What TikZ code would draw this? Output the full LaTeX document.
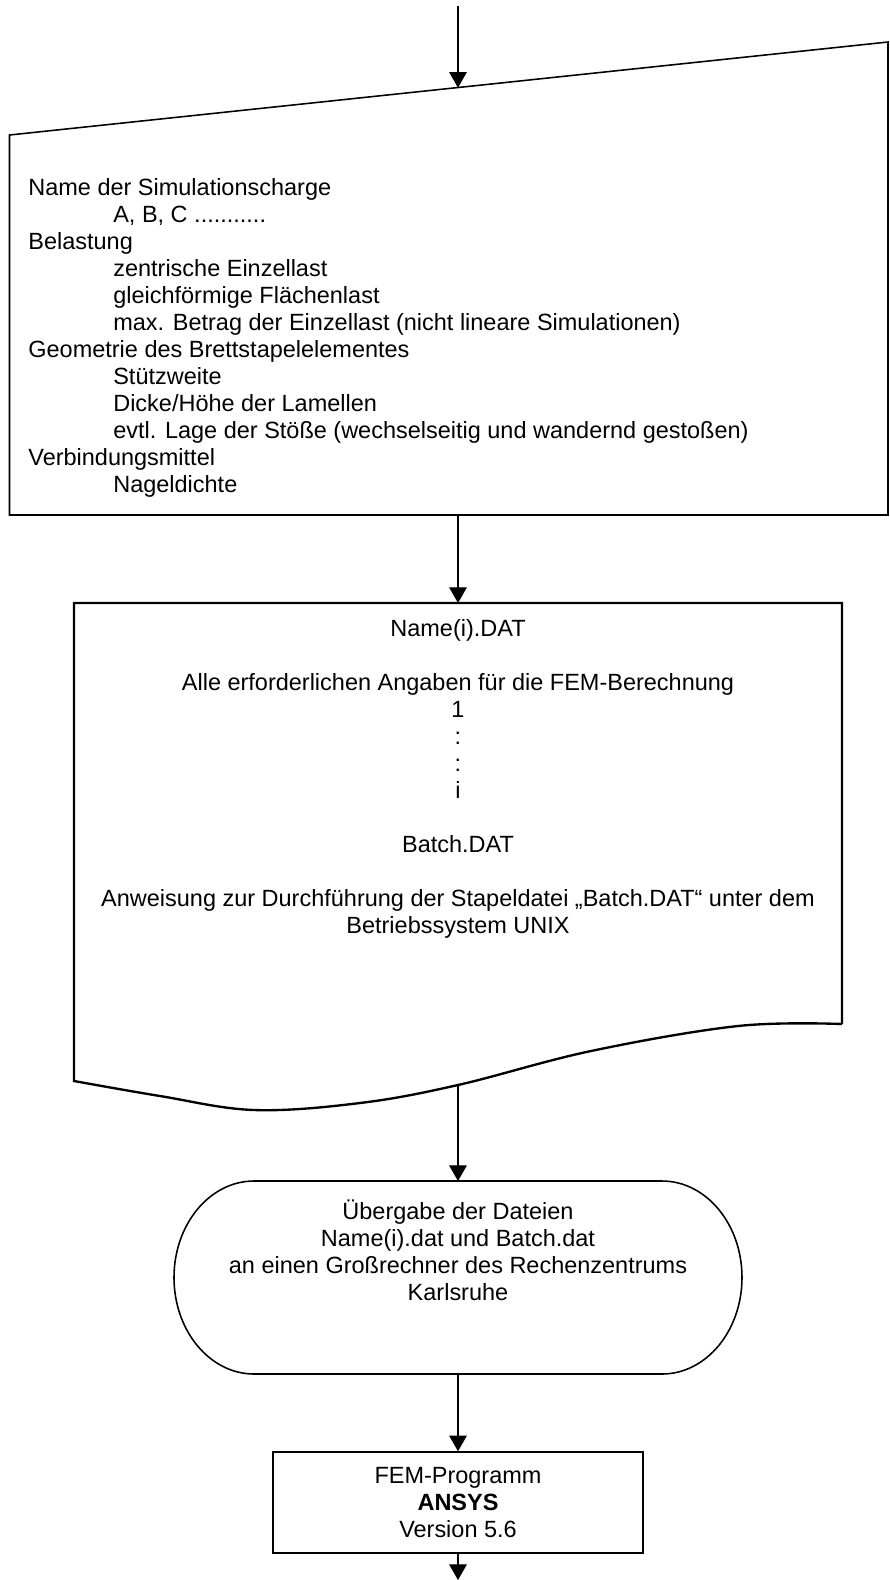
\documentclass[tikz,border=0pt]{standalone}
\usepackage{fontspec}
\setmainfont{Liberation Sans}
\usetikzlibrary{arrows.meta,positioning,calc}

\newcommand{\ind}{\hspace*{43.4pt}}
\tikzset{
  flow/.style={-{Triangle[length=8pt,width=9pt]},line width=0.6pt},
  outline/.style={draw,line width=0.8pt},
  txt/.style={inner sep=0pt,font=\fontsize{12}{13.8}\selectfont},
}

\begin{document}
\begin{tikzpicture}[x=0.511pt,y=-0.511pt]
\useasboundingbox (0,0) rectangle (890,1580);
\pgfmathsetmacro\mid{458}

% manuelle Eingabe
\draw[outline] (9.5,135) -- (888,42) -- (888,515) -- (9.5,515) -- cycle;
\coordinate (start) at (\mid,6);
\coordinate (inTop) at (\mid,87.7);
\coordinate (inBot) at (\mid,515);
\node[txt,anchor=north west,align=left] (param) at (28,178) {Name der Simulationscharge\\
\ind A, B, C ...........\\
Belastung\\
\ind zentrische Einzellast\\
\ind gleichförmige Flächenlast\\
\ind max. Betrag der Einzellast (nicht lineare Simulationen)\\
Geometrie des Brettstapelelementes\\
\ind Stützweite\\
\ind Dicke/Höhe der Lamellen\\
\ind evtl. Lage der Stöße (wechselseitig und wandernd gestoßen)\\
Verbindungsmittel\\
\ind Nageldichte};

% Dokument
\draw[outline,line width=1.2pt] (842,1024) -- (842,603) -- (74,603) -- (74,1081)
  -- plot[smooth,tension=0.6] coordinates {(74,1081) (160,1096) (254,1110) (360,1103) (458,1085) (591,1051) (738,1026) (842,1024)};
\coordinate (docTop) at (\mid,603);
\coordinate (docBot) at (\mid,1085);
\node[txt,anchor=north,align=center] (files) at (\mid,619) {Name(i).DAT\\[13.8pt]
Alle erforderlichen Angaben für die FEM-Berechnung\\
1\\ :\\ :\\ i\\[13.8pt]
Batch.DAT\\[13.8pt]
Anweisung zur Durchführung der Stapeldatei „Batch.DAT“ unter dem\\
Betriebssystem UNIX};

% Grenzstelle
\draw[outline] (254,1181) -- (662,1181) arc[start angle=-90,end angle=90,x radius=80,y radius=96.5]
  -- (254,1374) arc[start angle=90,end angle=270,x radius=80,y radius=96.5] -- cycle;
\coordinate (termTop) at (\mid,1181);
\coordinate (termBot) at (\mid,1374);
\node[txt,align=center] (transfer) at (\mid,1250) {Übergabe der Dateien\\
Name(i).dat und Batch.dat\\
an einen Großrechner des Rechenzentrums\\
Karlsruhe};

% Programm
\node[outline,txt,minimum width=189pt,minimum height=51.6pt,align=center] (ansys) at (\mid,1502.5) {FEM-Programm\\ \textbf{ANSYS}\\ Version 5.6};
\coordinate (stop) at (\mid,1580);

\draw[flow] (start) -- (inTop);
\draw[flow] (inBot) -- (docTop);
\draw[flow] (docBot) -- (termTop);
\draw[flow] (termBot) -- (ansys.north);
\draw[flow] (ansys.south) -- (stop);

\end{tikzpicture}
\end{document}
